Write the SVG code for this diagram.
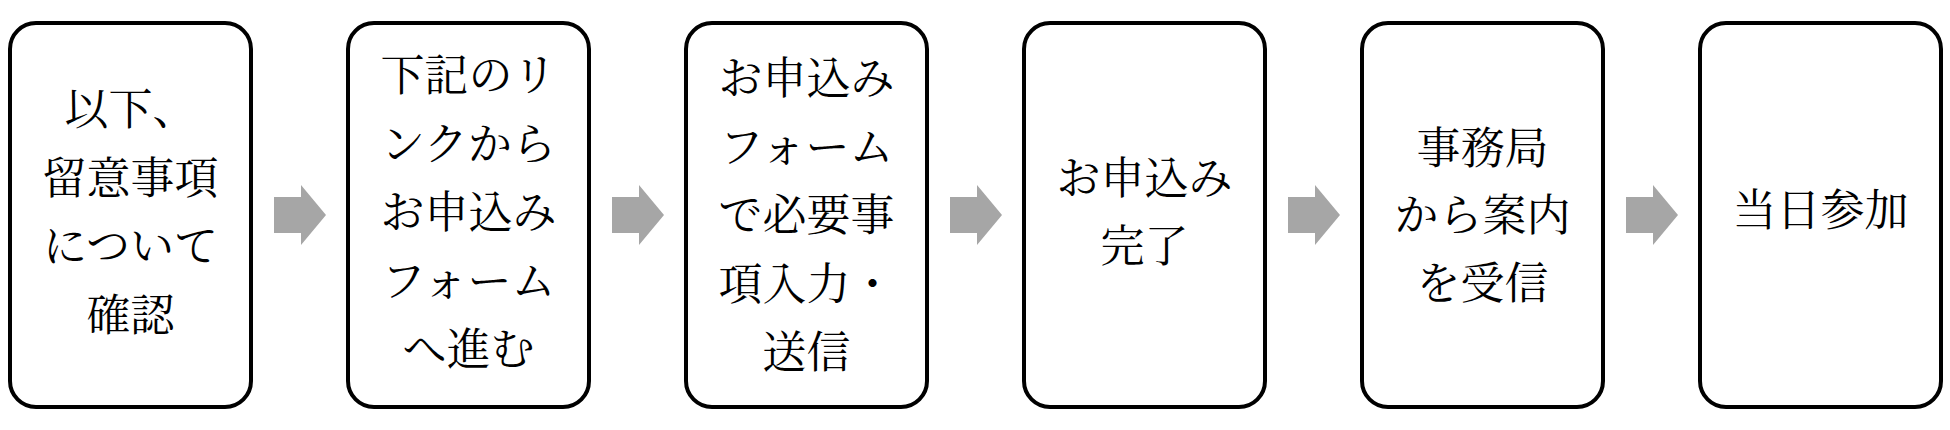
<svg xmlns="http://www.w3.org/2000/svg" width="1950" height="430" viewBox="0 0 1950 430">
<style>
.box{fill:#ffffff;stroke:#000000;stroke-width:4}
.t{font-family:"Noto Serif CJK JP","Noto Sans CJK JP",serif;font-size:44px;fill:#000000;text-anchor:middle}
.arr{fill:#a6a6a6}
</style>
<defs>
<path id="arrow" d="M0,-18 L27,-18 L27,-30 L52,0 L27,30 L27,18 L0,18 Z"/>
</defs>
<rect x="0" y="0" width="1950" height="430" fill="#ffffff"/>
<g id="node1">
<rect class="box" x="10" y="23" width="241" height="384" rx="26"/>
<text class="t" x="130.5" y="125">以下、</text>
<text class="t" x="130.5" y="194">留意事項</text>
<text class="t" x="130.5" y="262">について</text>
<text class="t" x="130.5" y="331">確認</text>
</g>
<g id="node2">
<rect class="box" x="348" y="23" width="241" height="384" rx="26"/>
<text class="t" x="468.5" y="91">下記のリ</text>
<text class="t" x="468.5" y="159.5">ンクから</text>
<text class="t" x="468.5" y="228">お申込み</text>
<text class="t" x="468.5" y="296.5">フォーム</text>
<text class="t" x="468.5" y="365">へ進む</text>
</g>
<g id="node3">
<rect class="box" x="686" y="23" width="241" height="384" rx="26"/>
<text class="t" x="806.5" y="94">お申込み</text>
<text class="t" x="806.5" y="162.5">フォーム</text>
<text class="t" x="806.5" y="231">で必要事</text>
<text class="t" x="806.5" y="299.5">項入力・</text>
<text class="t" x="806.5" y="368">送信</text>
</g>
<g id="node4">
<rect class="box" x="1024" y="23" width="241" height="384" rx="26"/>
<text class="t" x="1144.5" y="194">お申込み</text>
<text class="t" x="1144.5" y="262">完了</text>
</g>
<g id="node5">
<rect class="box" x="1362" y="23" width="241" height="384" rx="26"/>
<text class="t" x="1482.5" y="164">事務局</text>
<text class="t" x="1482.5" y="231">から案内</text>
<text class="t" x="1482.5" y="299">を受信</text>
</g>
<g id="node6">
<rect class="box" x="1700" y="23" width="241" height="384" rx="26"/>
<text class="t" x="1820.5" y="226">当日参加</text>
</g>
<g id="connectors">
<use href="#arrow" class="arr" x="274" y="215"/>
<use href="#arrow" class="arr" x="612" y="215"/>
<use href="#arrow" class="arr" x="950" y="215"/>
<use href="#arrow" class="arr" x="1288" y="215"/>
<use href="#arrow" class="arr" x="1626" y="215"/>
</g>
</svg>
